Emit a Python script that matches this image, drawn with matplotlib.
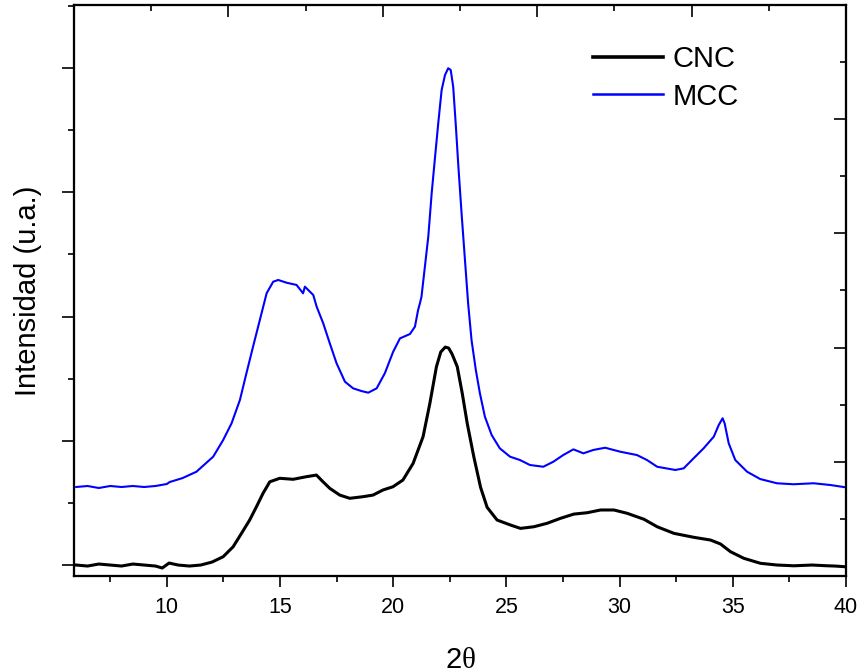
import matplotlib
matplotlib.use("Agg")
import matplotlib.pyplot as plt
from matplotlib.ticker import MultipleLocator, NullFormatter

plt.rcParams['font.family'] = ['Liberation Sans', 'DejaVu Sans']
plt.rcParams['mathtext.fontset'] = 'custom'
plt.rcParams['mathtext.rm'] = 'Liberation Serif'

# CNC diffractogram (2theta, intensity in arbitrary units)
cnc_2theta = [6.0, 6.5, 7.0, 7.5, 8.0, 8.5, 9.0, 9.5, 9.8, 10.1, 10.5, 11.0, 11.5,
              12.0, 12.49, 12.93, 13.30, 13.66, 13.96, 14.25, 14.55, 14.99, 15.58,
              16.17, 16.61, 16.90, 17.20, 17.64, 18.08, 18.67, 19.11, 19.55, 19.99,
              20.43, 20.88, 21.32, 21.62, 21.91, 22.10, 22.30, 22.45, 22.60, 22.83,
              23.05, 23.27, 23.56, 23.86, 24.15, 24.59, 25.18, 25.62, 26.21, 26.80,
              27.39, 27.98, 28.57, 29.16, 29.75, 30.34, 31.08, 31.66, 32.40, 33.28,
              34.02, 34.46, 34.90, 35.49, 36.22, 36.96, 37.70, 38.50, 39.17, 39.50,
              40.0]
cnc_int = [0, -8, 8, 0, -8, 8, 0, -8, -24, 16, 0, -8, 0,
           24, 67, 147, 255, 362, 469, 577, 670, 698, 690,
           711, 724, 670, 617, 563, 537, 550, 563, 604, 630,
           684, 818, 1033, 1301, 1596, 1714, 1754, 1746, 1698, 1596,
           1382, 1140, 872, 625, 464, 362, 322, 295, 308, 336,
           376, 410, 421, 443, 443, 416, 368, 308, 255, 223,
           201, 169, 107, 54, 14, 0, -6, 0, -6, -8,
           -14]

# MCC diffractogram
mcc_2theta = [6.0, 6.5, 7.0, 7.5, 8.0, 8.5, 9.0, 9.5, 10.0, 10.13, 10.7, 11.31,
              12.05, 12.49, 12.86, 13.23, 13.52, 13.81, 14.11, 14.41, 14.70, 14.92,
              15.29, 15.73, 16.02, 16.10, 16.47, 16.62, 16.91, 17.20, 17.50, 17.87,
              18.23, 18.60, 18.90, 19.27, 19.63, 20.00, 20.30, 20.74, 20.96, 21.10,
              21.18, 21.25, 21.40, 21.55, 21.70, 21.85, 21.99, 22.14, 22.29, 22.43,
              22.54, 22.65, 22.77, 22.87, 23.02, 23.17, 23.31, 23.46, 23.65, 23.83,
              24.05, 24.35, 24.71, 25.16, 25.60, 26.04, 26.63, 27.07, 27.51, 27.96,
              28.40, 28.84, 29.36, 30.03, 30.77, 31.21, 31.66, 32.46, 32.83, 33.27,
              33.71, 34.16, 34.38, 34.55, 34.64, 34.82, 35.11, 35.63, 36.21, 36.95,
              37.68, 38.57, 39.31, 40.0]
mcc_int = [628, 636, 620, 636, 628, 636, 628, 636, 652, 668, 700, 751,
           872, 1006, 1140, 1328, 1545, 1757, 1972, 2187, 2280, 2294,
           2272, 2254, 2187, 2240, 2173, 2079, 1945, 1784, 1623, 1475,
           1422, 1400, 1387, 1422, 1543, 1717, 1824, 1859, 1918, 2052,
           2106, 2159, 2401, 2642, 2992, 3286, 3555, 3823, 3944, 3998,
           3984, 3850, 3528, 3233, 2831, 2455, 2106, 1811, 1569, 1382,
           1194, 1046, 939, 872, 845, 805, 791, 831, 885, 931,
           899, 926, 944, 912, 885, 845, 791, 765, 778, 859,
           939, 1033, 1127, 1181, 1140, 979, 845, 751, 692, 658,
           650, 658, 644, 625]

x_ticks = [10, 15, 20, 25, 30, 35, 40]

fig = plt.figure(figsize=(8.63, 6.72), dpi=100)
ax = fig.add_axes([0.0857, 0.1429, 0.8946, 0.8497])

ax.plot(cnc_2theta, cnc_int, color='black', lw=2.2, label='CNC', zorder=3,
        solid_joinstyle='round')
ax.plot(mcc_2theta, mcc_int, color='#0000ff', lw=1.5, label='MCC', zorder=2,
        solid_joinstyle='round')

ax.set_xlim(5.9, 40.0)
ax.set_ylim(-88, 4507)
ax.set_xticks(x_ticks)
ax.xaxis.set_minor_locator(MultipleLocator(2.5))
ax.yaxis.set_major_locator(MultipleLocator(1000))
ax.yaxis.set_minor_locator(MultipleLocator(500))
ax.yaxis.set_major_formatter(NullFormatter())

ax.tick_params(axis='x', which='major', direction='out', length=8, width=1.2,
               labelsize=15.5, pad=7, top=False)
ax.tick_params(axis='x', which='minor', direction='out', length=4.5, width=1.2, top=False)
ax.tick_params(axis='y', which='major', direction='out', length=8.5, width=1.2, right=False)
ax.tick_params(axis='y', which='minor', direction='out', length=4.5, width=1.2, right=False)
for s in ax.spines.values():
    s.set_linewidth(1.5)

ax.set_xlabel(r'2$\mathrm{\theta}$', fontsize=21, labelpad=20)
ax.set_ylabel('Intensidad (u.a.)', fontsize=21, labelpad=11)

# inward ticks on the top and right frame
ax_top = ax.twiny()
ax_top.set_xlim(0, 1)
ax_top.xaxis.set_major_locator(MultipleLocator(0.2))
ax_top.xaxis.set_minor_locator(MultipleLocator(0.1))
ax_top.xaxis.set_major_formatter(NullFormatter())
ax_top.tick_params(axis='x', which='major', direction='in', length=8.5, width=1.2)
ax_top.tick_params(axis='x', which='minor', direction='in', length=4.5, width=1.2)
ax_top.tick_params(axis='y', left=False, right=False, labelleft=False)

ax_right = ax.twinx()
ax_right.set_ylim(0, 1)
ax_right.yaxis.set_major_locator(MultipleLocator(0.2))
ax_right.yaxis.set_minor_locator(MultipleLocator(0.1))
ax_right.yaxis.set_major_formatter(NullFormatter())
ax_right.tick_params(axis='y', which='major', direction='in', length=8.5, width=1.2)
ax_right.tick_params(axis='y', which='minor', direction='in', length=4.5, width=1.2)
ax_right.tick_params(axis='x', top=False, bottom=False, labelbottom=False)
for a in (ax_top, ax_right):
    for s in a.spines.values():
        s.set_linewidth(1.5)

leg = ax.legend(loc='upper left', bbox_to_anchor=(0.672, 0.93), frameon=False,
                fontsize=21, handlelength=2.4, handletextpad=0.35, labelspacing=0.33,
                borderaxespad=0, borderpad=0)
leg.get_lines()[0].set_linewidth(2.6)
leg.get_lines()[1].set_linewidth(1.8)

fig.savefig('out.png', dpi=100)
